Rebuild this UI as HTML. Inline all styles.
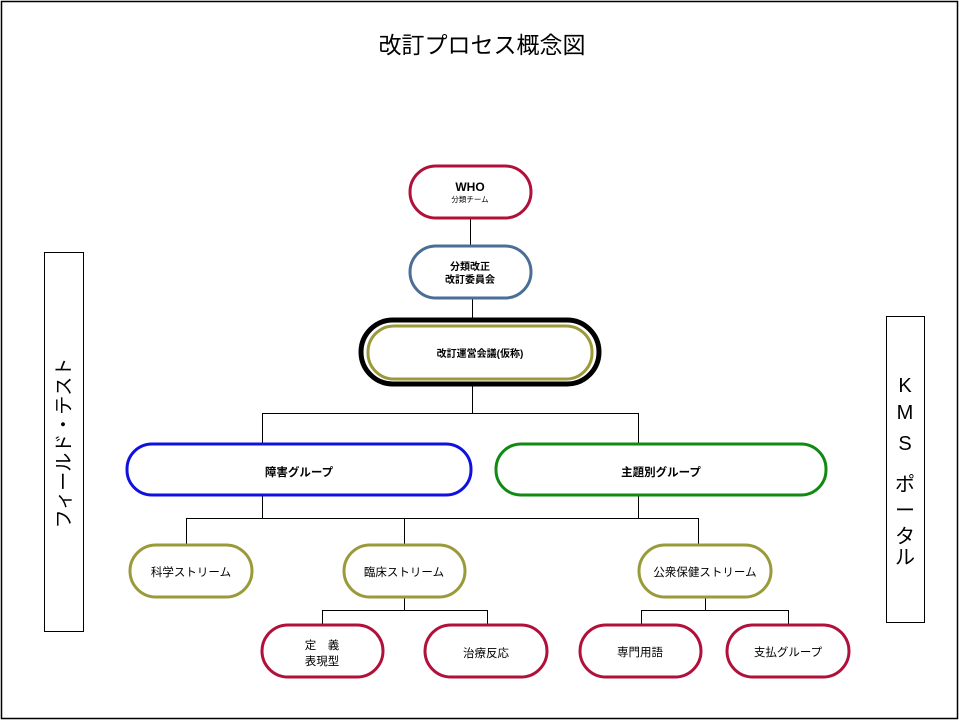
<!DOCTYPE html>
<html><head><meta charset="utf-8"><style>
html,body{margin:0;padding:0;background:#fff}
svg{display:block}
text{font-family:"Liberation Sans","Noto Sans CJK JP",sans-serif;fill:#000}
</style></head><body>
<svg width="960" height="721" viewBox="0 0 960 721" xmlns="http://www.w3.org/2000/svg">
<rect x="1.5" y="1.5" width="956" height="717" fill="#fff" stroke="#000" stroke-width="1.5"/>
<text x="482" y="53" font-size="23" text-anchor="middle">改訂プロセス概念図</text>

<g stroke="#000" stroke-width="1" fill="none">
<line x1="470.5" y1="218" x2="470.5" y2="245"/>
<line x1="472.5" y1="299" x2="472.5" y2="318"/>
<line x1="472.5" y1="386" x2="472.5" y2="413"/>
<line x1="262.5" y1="413.5" x2="638.5" y2="413.5"/>
<line x1="262.5" y1="413" x2="262.5" y2="443"/>
<line x1="638.5" y1="413" x2="638.5" y2="443"/>
<line x1="262.5" y1="496" x2="262.5" y2="518"/>
<line x1="638.5" y1="496" x2="638.5" y2="518"/>
<line x1="186.5" y1="518.5" x2="698.5" y2="518.5"/>
<line x1="186.5" y1="518" x2="186.5" y2="544"/>
<line x1="404.5" y1="518" x2="404.5" y2="544"/>
<line x1="698.5" y1="518" x2="698.5" y2="544"/>
<line x1="404.5" y1="598" x2="404.5" y2="610"/>
<line x1="322.5" y1="610.5" x2="487.5" y2="610.5"/>
<line x1="322.5" y1="610" x2="322.5" y2="624"/>
<line x1="487.5" y1="610" x2="487.5" y2="624"/>
<line x1="705.5" y1="598" x2="705.5" y2="610"/>
<line x1="641.5" y1="610.5" x2="788.5" y2="610.5"/>
<line x1="641.5" y1="610" x2="641.5" y2="624"/>
<line x1="788.5" y1="610" x2="788.5" y2="624"/>
</g>

<g fill="#fff" stroke-width="3">
<rect x="410" y="166" width="121" height="52" rx="26" stroke="#b0103a"/>
<rect x="410" y="246" width="121" height="52" rx="26" stroke="#4a6e96"/>
<rect x="361" y="320" width="238" height="64" rx="32" stroke="#000" stroke-width="5"/>
<rect x="368" y="326" width="224" height="53" rx="26" stroke="#9b9a3a"/>
<rect x="127" y="444" width="344" height="51" rx="25" stroke="#1010e0"/>
<rect x="496" y="444" width="330" height="51" rx="25" stroke="#108a10"/>
<rect x="130" y="545" width="122" height="52" rx="26" stroke="#9b9a3a"/>
<rect x="344" y="545" width="121" height="52" rx="26" stroke="#9b9a3a"/>
<rect x="639" y="545" width="132" height="52" rx="26" stroke="#9b9a3a"/>
<rect x="262" y="625" width="121" height="52" rx="26" stroke="#b0103a"/>
<rect x="425" y="625" width="122" height="52" rx="26" stroke="#b0103a"/>
<rect x="580" y="625" width="121" height="52" rx="26" stroke="#b0103a"/>
<rect x="727" y="625" width="122" height="52" rx="26" stroke="#b0103a"/>
</g>

<g text-anchor="middle" font-size="11.5">
<text x="470" y="191" font-size="12" font-weight="bold">WHO</text>
<text x="470" y="202" font-size="7.5">分類チーム</text>
<text x="470" y="270" font-weight="bold" font-size="10">分類改正</text>
<text x="470" y="283" font-weight="bold" font-size="10">改訂委員会</text>
<text x="480" y="357" font-weight="bold" font-size="10">改訂運営会議(仮称)</text>
<text x="299" y="476" font-weight="bold">障害グループ</text>
<text x="661" y="476" font-weight="bold">主題別グループ</text>
<text x="191" y="576">科学ストリーム</text>
<text x="404" y="576">臨床ストリーム</text>
<text x="705" y="576">公衆保健ストリーム</text>
<text x="322" y="649">定　義</text>
<text x="322" y="665">表現型</text>
<text x="486" y="657">治療反応</text>
<text x="640" y="656">専門用語</text>
<text x="788" y="656">支払グループ</text>
</g>

<rect x="44.5" y="252.5" width="39" height="379" fill="#fff" stroke="#000"/>
<text x="0" y="0" font-size="19" text-anchor="middle" transform="translate(70,443) rotate(-90)">フィールド・テスト</text>

<rect x="886.5" y="316.5" width="38" height="306" fill="#fff" stroke="#000"/>
<g font-size="20" text-anchor="middle">
<text x="905" y="392">K</text>
<text x="905" y="419">M</text>
<text x="905" y="450">S</text>
<text x="905" y="491">ポ</text>
<text x="905" y="517">ー</text>
<text x="905" y="543">タ</text>
<text x="905" y="564">ル</text>
</g>
</svg>
</body></html>
